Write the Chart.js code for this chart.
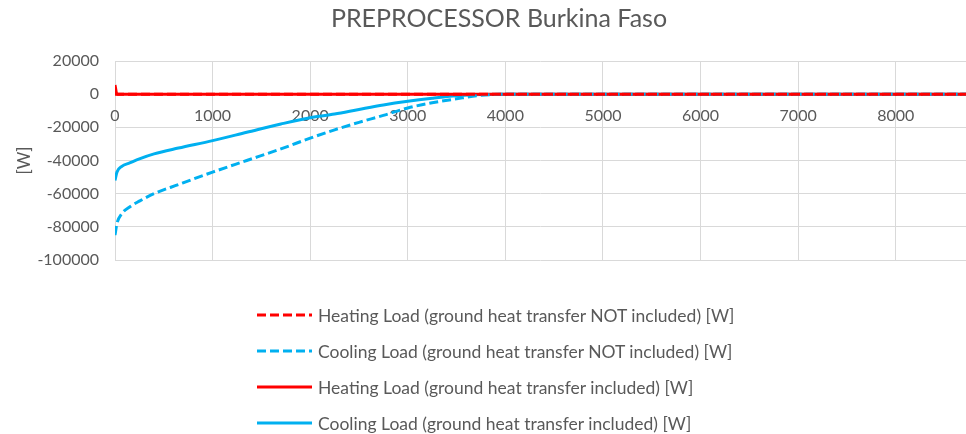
<!DOCTYPE html>
<html>
<head>
<meta charset="utf-8">
<script src="https://cdn.jsdelivr.net/npm/chart.js@4/dist/chart.umd.min.js"></script>
<style>
  body { margin: 0; background: #fff; }
  #wrap { position: relative; width: 966px; height: 434px; }
  #legend { position: absolute; left: 257px; top: 297px; font-family: Lato, sans-serif; font-size: 17.5px; color: #595959; }
  .item { height: 36px; display: flex; align-items: center; white-space: nowrap; }
  .item svg { margin-right: 6px; }
</style>
</head>
<body>
<div id="wrap">
  <canvas id="myChart" width="966" height="434"></canvas>
  <div id="legend"></div>
</div>
<script>
// hour rank (sorted load duration curve)
var hours = [0, 20, 70, 150, 250, 400, 650, 1000, 1350, 1700, 2000, 2250, 2500, 2750, 3000, 3250, 3500, 3750, 4000, 8760];
var xTicks = [0, 1000, 2000, 3000, 4000, 5000, 6000, 7000, 8000];

var heatNotIncl = [0, 0, 0, 0, 0, 0, 0, 0, 0, 0, 0, 0, 0, 0, 0, 0, 0, 0, 0, 0];
var coolNotIncl = [-85000, -78000, -72000, -68000, -64500, -60000, -54500, -47000, -40000, -33000, -26500, -21500, -17000, -12800, -8300, -5200, -2800, -700, 0, 0];
var heatIncl = [5500, 0, 0, 0, 0, 0, 0, 0, 0, 0, 0, 0, 0, 0, 0, 0, 0, 0, 0, 0];
var coolIncl = [-52000, -47000, -43500, -41500, -39000, -36000, -32500, -28000, -23000, -18000, -14200, -12000, -9200, -6500, -4300, -2500, -1000, -200, 0, 0];

var seriesNames = [
  "Heating Load (ground heat transfer NOT included) [W]",
  "Cooling Load (ground heat transfer NOT included) [W]",
  "Heating Load (ground heat transfer included) [W]",
  "Cooling Load (ground heat transfer included) [W]"
];

const RED = '#FF0000';
const BLUE = '#00B0F0';
const GRID = '#D9D9D9';
const TXT = '#595959';

function toPoints(vals){
  return hours.map((h, i) => ({x: h, y: vals[i]}));
}

function makeSet(name, vals, color, dashed){
  return {
    label: name,
    data: toPoints(vals),
    borderColor: color,
    borderWidth: 3,
    borderDash: dashed ? [9, 4] : [],
    pointRadius: 0,
    fill: false,
    cubicInterpolationMode: 'monotone'
  };
}

const CTX = document.getElementById('myChart').getContext('2d');
const CONFIG = {
  type: 'line',
  data: {
    datasets: [
      makeSet(seriesNames[0], heatNotIncl, RED, true),
      makeSet(seriesNames[1], coolNotIncl, BLUE, true),
      makeSet(seriesNames[2], heatIncl, RED, false),
      makeSet(seriesNames[3], coolIncl, BLUE, false)
    ]
  },
  options: {
    responsive: false,
    animation: false,
    // left padding shifts the title centre to the right like the original
    layout: { padding: { left: 32, right: 0, top: 0, bottom: 174 } },
    plugins: {
      legend: { display: false },
      tooltip: { enabled: false },
      title: {
        display: true,
        text: 'PREPROCESSOR Burkina Faso',
        color: TXT,
        font: { family: 'Lato', size: 25, weight: 'normal' },
        padding: { top: 4, bottom: 27 }
      }
    },
    scales: {
      x: {
        type: 'linear',
        position: { y: 0 },
        min: 0,
        max: 8720,
        grid: { color: GRID, drawTicks: false },
        border: { display: false },
        afterBuildTicks: function(scale){ scale.ticks = xTicks.map(v => ({value: v})); },
        ticks: {
          padding: 12,
          color: TXT,
          font: { family: 'Lato', size: 16 },
          maxRotation: 0,
          autoSkip: false,
          callback: v => String(v)
        }
      },
      y: {
        min: -100000,
        max: 20000,
        grid: { color: GRID, drawTicks: false },
        border: { display: false },
        ticks: {
          stepSize: 20000,
          padding: 16,
          color: TXT,
          font: { family: 'Lato', size: 16 },
          callback: v => String(v)
        },
        title: {
          display: true,
          text: '[W]',
          color: TXT,
          font: { family: 'Lato', size: 17 },
          padding: { top: -18, bottom: 0 }
        },
        afterFit: function(scale){ scale.width = 83; }
      }
    }
  }
};

var myChart = new Chart(CTX, CONFIG);

// legend as a vertical list, one entry per row
var legendDiv = document.getElementById('legend');
CONFIG.data.datasets.forEach(function(ds){
  var row = document.createElement('div');
  row.className = 'item';
  var dash = ds.borderDash.length ? ' stroke-dasharray="9 4"' : '';
  row.innerHTML = '<svg width="55" height="6"><line x1="0" y1="3" x2="55" y2="3" stroke="' + ds.borderColor + '" stroke-width="3"' + dash + '/></svg><span>' + ds.label + '</span>';
  legendDiv.appendChild(row);
});
</script>
</body>
</html>
